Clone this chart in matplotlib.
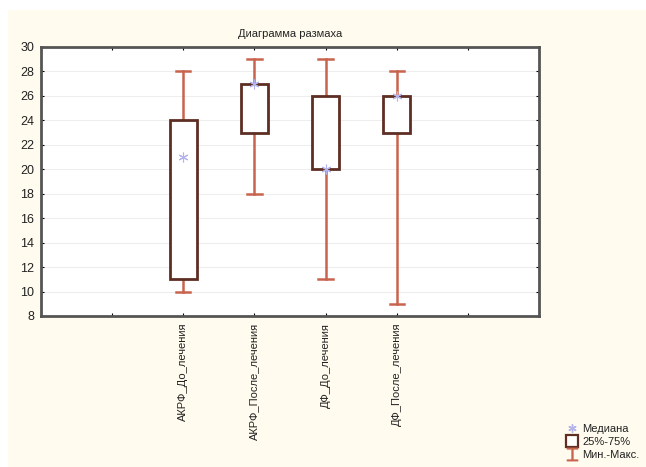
import matplotlib.pyplot as plt
from matplotlib.patches import Rectangle
from matplotlib.lines import Line2D
import numpy as np

plt.rcParams['font.family'] = ['Liberation Sans', 'DejaVu Sans']
plt.rcParams['text.color'] = '#222222'

# Данные диаграммы размаха
labels = ["АКРФ_До_лечения", "АКРФ_После_лечения", "ДФ_До_лечения", "ДФ_После_лечения"]
minimum = [10, 18, 11, 9]
q1 = [11, 23, 20, 23]
median = [21, 27, 20, 26]
q3 = [24, 27, 26, 26]
maximum = [28, 29, 29, 28]
y_ticks = list(range(8, 31, 2))

box_col = "#5e2e24"
whisk_col = "#c8644e"
med_col = "#b4b4ec"
bg = "#fffbee"

fig = plt.figure(figsize=(6.46, 4.67), dpi=100, facecolor="white")
fig.patches.append(Rectangle((8 / 646, 0), 1, 1 - 10 / 467, transform=fig.transFigure,
                             facecolor=bg, edgecolor="none", zorder=-10))

ax = fig.add_axes([41 / 646, 1 - 316 / 467, (539 - 41) / 646, (316 - 47) / 467])
ax.set_facecolor("white")

pos = np.arange(2, 2 + len(labels))
bw = 0.38
cw = 0.2
for x, lo, a, m, b, hi in zip(pos, minimum, q1, median, q3, maximum):
    ax.plot([x, x], [lo, a], color=whisk_col, lw=1.8, zorder=2)
    ax.plot([x, x], [b, hi], color=whisk_col, lw=1.8, zorder=2)
    ax.plot([x - cw / 2, x + cw / 2], [lo, lo], color=whisk_col, lw=1.8, zorder=2)
    ax.plot([x - cw / 2, x + cw / 2], [hi, hi], color=whisk_col, lw=1.8, zorder=2)
    ax.add_patch(Rectangle((x - bw / 2, a), bw, b - a, facecolor="white",
                           edgecolor=box_col, lw=2, zorder=3))
    ax.plot(x, m, marker=(6, 2, 0), color=med_col, ms=7, mew=0.8, zorder=4)

ax.set_xlim(0, 7)
ax.set_ylim(8, 30)
ax.set_yticks(y_ticks)
ax.set_xticks(range(1, 7))
ax.set_xticklabels([""] + labels + [""], rotation=90, fontsize=8)
ax.tick_params(axis="y", labelsize=9, direction="in", length=2, right=True, pad=5,
               labelcolor="#222222")
ax.tick_params(axis="x", direction="in", length=2, top=True, pad=5, labelcolor="#222222")
ax.grid(axis="y", color="#eeeeee", lw=0.8)
ax.set_axisbelow(True)
for s in ax.spines.values():
    s.set_color("#555555")
    s.set_linewidth(2)

ax.set_title("Диаграмма размаха", fontsize=8, pad=7)

handles = [
    Line2D([], [], ls="none", marker=(6, 2, 0), color=med_col, ms=6),
    Line2D([], [], ls="none", marker="s", mfc="white", mec=box_col, mew=1.6, ms=8),
    Line2D([], [], ls="none", marker="$\u2336$", color=whisk_col, ms=9),
]
fig.legend(handles, ["Медиана", "25%-75%", "Мин.-Макс."], loc="lower right",
           bbox_to_anchor=(1.0, 0.0), frameon=False, fontsize=8,
           handlelength=0.8, handletextpad=0.5, labelspacing=0.3, borderaxespad=0.2)

fig.savefig("out.png", dpi=100, facecolor=fig.get_facecolor())
